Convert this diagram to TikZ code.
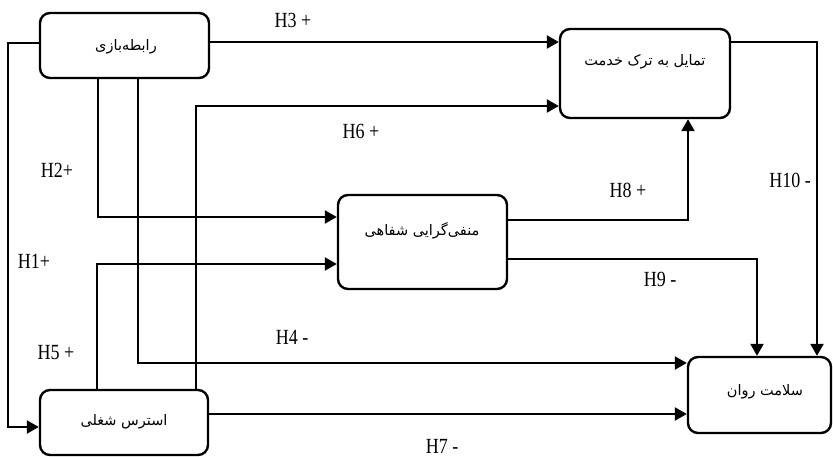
\documentclass[tikz,border=0pt]{standalone}
\usepackage{fontspec}
\setmainfont{Liberation Serif}
\newfontfamily\fa[Script=Arabic]{DejaVu Sans}
\TeXXeTstate=1
\usetikzlibrary{arrows.meta}
\newcommand{\hlab}[1]{\scalebox{1}[1.2]{#1}}
\newcommand{\fat}[1]{{\fa\beginR #1\endR}}
\begin{document}
\begin{tikzpicture}[x=1pt,y=-1pt,
  box/.style={draw, line width=2.4pt, rounded corners=10pt, inner sep=0pt},
  conn/.style={line width=2.4pt, -{Triangle[length=12pt,width=13pt]}},
  hyp/.style={font=\fontsize{18}{20}\selectfont, inner sep=0pt},
  fatext/.style={font=\fontsize{14.5}{16}\selectfont, inner sep=0pt}]
\useasboundingbox (0,0) rectangle (833,457);
% boxes
\node[box, minimum width=169pt, minimum height=65pt] (A) at (124.5,45.5) {};
\node[box, minimum width=170pt, minimum height=89pt] (B) at (645,73.5) {};
\node[box, minimum width=169pt, minimum height=94pt] (C) at (422.5,242) {};
\node[box, minimum width=143pt, minimum height=76pt] (D) at (759.5,395) {};
\node[box, minimum width=168pt, minimum height=65pt] (E) at (124,422.5) {};
% box texts
\node[fatext] (tA) at (126,47) {\fat{رابطه‌بازی}};
\node[fatext] (tB) at (645,62) {\fat{تمایل به ترک خدمت}};
\node[fatext] (tC) at (422,231) {\fat{منفی‌گرایی شفاهی}};
\node[fatext] (tD) at (765,392) {\fat{سلامت روان}};
\node[fatext] (tE) at (124,422) {\fat{استرس شغلی}};
% connectors
\draw[conn] ([yshift=2.5pt]A.west) -- ++(-31,0) |- ([yshift=-4.5pt]E.west);
\draw[conn] ([xshift=-26.5pt]A.south) |- ([yshift=25pt]C.west);
\draw[conn] ([xshift=13.5pt]A.south) |- ([yshift=32pt]D.west);
\draw[conn] ([yshift=3.5pt]A.east) -- ([yshift=3.5pt]A.east -| B.west);
\draw[conn] ([xshift=72pt]E.north) |- ([yshift=-32.5pt]B.west);
\draw[conn] ([xshift=-27pt]E.north) |- ([yshift=-22pt]C.west);
\draw[conn] ([yshift=8.5pt]E.east) -- ([yshift=8.5pt]E.east -| D.west);
\draw[conn] ([yshift=22pt]C.east) -| ([xshift=43pt]B.south);
\draw[conn] ([yshift=-17pt]C.east) -| ([xshift=-2.5pt]D.north);
\draw[conn] ([yshift=31.5pt]B.east) -| ([xshift=57.5pt]D.north);
% hypothesis labels
\node[hyp] (h1) at (34,261) {\hlab{H1+}};
\node[hyp] (h2) at (57,170) {\hlab{H2+}};
\node[hyp] (h3) at (293,20) {\hlab{H3 +}};
\node[hyp] (h4) at (292,337) {\hlab{H4 -}};
\node[hyp] (h5) at (56,353) {\hlab{H5 +}};
\node[hyp] (h6) at (361,131) {\hlab{H6 +}};
\node[hyp] (h7) at (442,446) {\hlab{H7 -}};
\node[hyp] (h8) at (628,190) {\hlab{H8 +}};
\node[hyp] (h9) at (660,279) {\hlab{H9 -}};
\node[hyp] (h10) at (790,180) {\hlab{H10 -}};
\end{tikzpicture}
\end{document}
